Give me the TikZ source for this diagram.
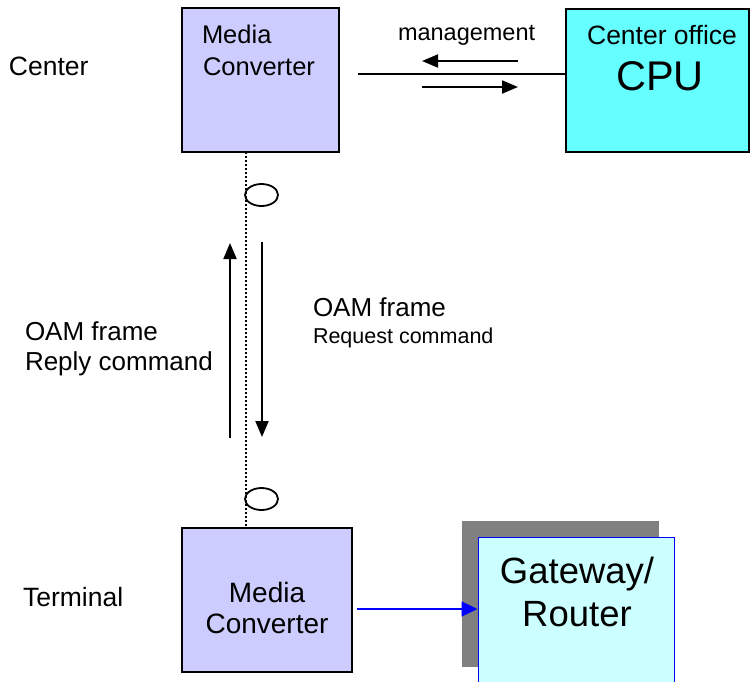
\documentclass[tikz,border=0pt]{standalone}
\usepackage{fontspec}
\setmainfont{Liberation Sans}
\usetikzlibrary{arrows.meta}
\definecolor{mclav}{HTML}{CCCCFF}
\definecolor{cpucyan}{HTML}{66FFFF}
\definecolor{gwcyan}{HTML}{CCFFFF}
\definecolor{shadowgray}{HTML}{808080}
\tikzset{
  boxshape/.style={rectangle, inner sep=0pt, draw=black, line width=2pt},
  mcbox/.style={boxshape, fill=mclav},
  cpubox/.style={boxshape, fill=cpucyan},
  txt/.style={inner sep=0pt, outer sep=0pt},
  blk/.style={line width=2pt, -{Triangle[length=16pt,width=13pt]}},
  oamcircle/.style={ellipse, draw=black, line width=1.8pt, minimum width=33pt, minimum height=22pt, inner sep=0pt},
}
\usetikzlibrary{shapes.geometric}
\newcommand{\fs}[1]{\fontsize{#1}{#1}\selectfont}
\begin{document}
\begin{tikzpicture}[x=1pt,y=-1pt]
\useasboundingbox (0,0) rectangle (751,681);
% boxes
\node[mcbox, minimum width=157pt, minimum height=144pt] (mc1) at (260.5,80) {};
\node[cpubox, minimum width=183pt, minimum height=143pt] (cpu) at (657.5,80.5) {};
\node[mcbox, minimum width=170pt, minimum height=144pt] (mc2) at (267,600) {};
\node[rectangle, inner sep=0pt, fill=shadowgray, minimum width=197pt, minimum height=146pt] (shadow) at (560.5,594) {};
\node[rectangle, inner sep=0pt, fill=gwcyan, draw=blue, line width=1pt, minimum width=196pt, minimum height=158pt] (gw) at (576,616) {};
% texts
\node[txt, anchor=base west] (tcenter) at (9,75) {\fs{26.5}Center};
\node[txt, anchor=base west] (tterm) at (23,606) {\fs{26.5}Terminal};
\node[txt, anchor=base west] (tmgmt) at (398,40) {\fs{23.5}management};
\node[txt, anchor=base west] (mc1a) at (202,43) {\fs{25.5}Media};
\node[txt, anchor=base west] (mc1b) at (203,75) {\fs{25.5}Converter};
\node[txt, anchor=base] (cpua) at (662,44) {\fs{26.5}Center office};
\node[txt, anchor=base] (cpub) at (660,90) {\fs{41.5}CPU};
\node[txt, anchor=base west] (oamla) at (25,340) {\fs{26}OAM frame};
\node[txt, anchor=base west] (oamlb) at (25,370) {\fs{26}Reply command};
\node[txt, anchor=base west] (oamra) at (313,316) {\fs{26}OAM frame};
\node[txt, anchor=base west] (oamrb) at (313,343) {\fs{21.5}Request command};
\node[txt, anchor=base] (mc2a) at (267,602) {\fs{28}Media};
\node[txt, anchor=base] (mc2b) at (267,633) {\fs{28}Converter};
\node[txt, anchor=base] (gwa) at (577,583) {\fs{36.5}Gateway/};
\node[txt, anchor=base] (gwb) at (577,626) {\fs{36.5}Router};
% dotted link
\draw[line width=2.5pt, dash pattern=on 2pt off 2pt] (246,152) -- (246,528);
\node[oamcircle] (e1) at (261.5,195) {};
\node[oamcircle] (e2) at (261.5,499) {};
% OAM arrows
\coordinate (upA) at (230,438);
\coordinate (upB) at (230,243);
\coordinate (dnA) at (262,242);
\coordinate (dnB) at (262,437);
\draw[blk] (upA) -- (upB);
\draw[blk] (dnA) -- (dnB);
% management
\coordinate (lnA) at (358,74);
\draw[line width=2pt] (lnA) -- (lnA -| cpu.west);
\coordinate (m1a) at (518,61);
\coordinate (m1b) at (422,61);
\coordinate (m2a) at (422,87);
\coordinate (m2b) at (518,87);
\draw[blk] (m1a) -- (m1b);
\draw[blk] (m2a) -- (m2b);
% blue arrow
\coordinate (bA) at (357,609);
\draw[blue, line width=1.2pt, -{Triangle[length=16pt,width=15pt]}] (bA) -- (bA -| gw.west);
\end{tikzpicture}
\end{document}
